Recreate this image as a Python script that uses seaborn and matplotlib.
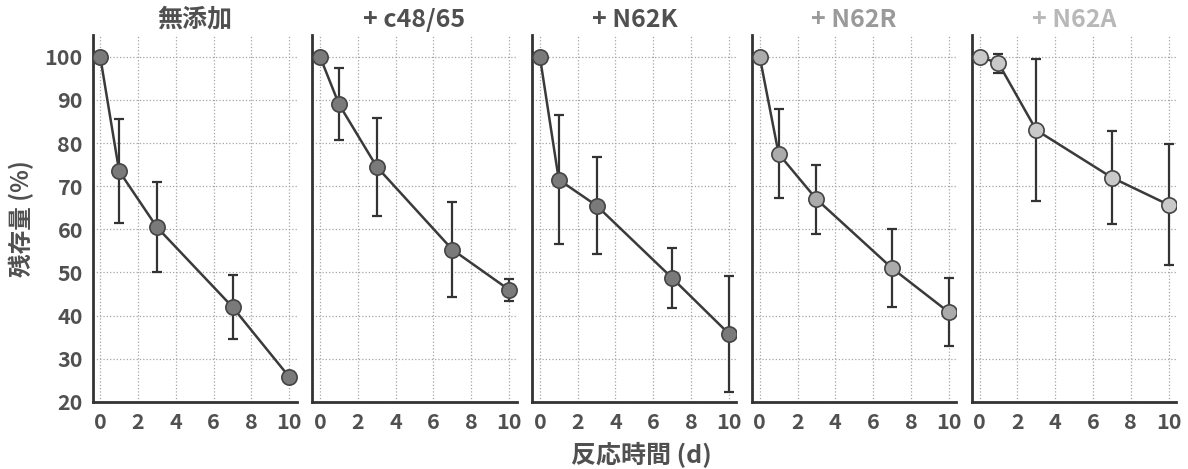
import numpy as np
import pandas as pd
import seaborn as sns
import matplotlib.pyplot as plt
from matplotlib.ticker import MultipleLocator

sns.set_style('white')
plt.rcParams['font.family'] = ['Noto Sans CJK JP', 'DejaVu Sans']

# datos
dias = [0, 1, 3, 7, 10]
titulos = ['無添加', '+ c48/65', '+ N62K', '+ N62R', '+ N62A']
valores = [
    [100, 73.5, 60.5, 42, 25.8],
    [100, 89, 74.5, 55.3, 46],
    [100, 71.5, 65.5, 48.7, 35.8],
    [100, 77.5, 67, 51, 40.8],
    [100, 98.5, 83, 72, 65.7],
]
errores = [
    [0, 12, 10.5, 7.5, 0.8],
    [0, 8.3, 11.4, 11, 2.5],
    [0, 15, 11.2, 7, 13.4],
    [0, 10.3, 8, 9, 7.9],
    [0, 2.2, 16.5, 10.7, 14],
]
color_marcador = ['#7a7a7a', '#7a7a7a', '#7a7a7a', '#ababab', '#c9c9c9']
color_titulo = ['#505050', '#505050', '#505050', '#9a9a9a', '#b8b8b8']

fig, axes = plt.subplots(1, 5, figsize=(11.88, 4.69), dpi=100, sharey=True)
plt.subplots_adjust(left=0.078, right=0.99, bottom=0.143, top=0.925, wspace=0.077)

for i, ax in enumerate(axes):
    df = pd.DataFrame({'dia': dias, 'valor': valores[i], 'err': errores[i]})
    ax.errorbar(df['dia'], df['valor'], yerr=df['err'], fmt='none',
                ecolor='#333333', elinewidth=1.6, capsize=3.5, capthick=1.6, zorder=2)
    sns.lineplot(data=df, x='dia', y='valor', ax=ax, color='#3a3a3a', linewidth=1.8,
                 marker='o', markersize=11, markerfacecolor=color_marcador[i],
                 markeredgecolor='#444444', markeredgewidth=1.2, zorder=3)

    ax.set_xlim(-0.4, 10.4)
    ax.set_ylim(20, 105)
    ax.xaxis.set_major_locator(MultipleLocator(2))
    ax.xaxis.set_minor_locator(MultipleLocator(1))
    ax.yaxis.set_major_locator(MultipleLocator(10))
    ax.yaxis.set_minor_locator(MultipleLocator(5))
    ax.set_yticks(np.arange(20, 101, 10))
    ax.tick_params(axis='both', which='major', direction='in', length=6, width=1.5,
                   color='#333333', labelsize=15.5, labelcolor='#505050', pad=7)
    ax.tick_params(axis='x', which='minor', direction='in', length=6, width=1.5, color='#333333')
    ax.tick_params(axis='y', which='minor', direction='in', length=3.5, width=1.2, color='#333333')
    for lab in ax.get_xticklabels() + ax.get_yticklabels():
        lab.set_fontweight('bold')

    ax.grid(True, which='major', linestyle=':', linewidth=0.9, color='#a5a5a5')
    ax.set_axisbelow(True)
    for lado in ['top', 'right']:
        ax.spines[lado].set_visible(False)
    for lado in ['left', 'bottom']:
        ax.spines[lado].set_linewidth(2)
        ax.spines[lado].set_color('#333333')

    ax.set_title(titulos[i], fontsize=18, fontweight='bold', color=color_titulo[i], pad=6)
    ax.set_xlabel('')
    ax.set_ylabel('')
    if i > 0:
        ax.tick_params(axis='y', labelleft=False)

axes[0].set_ylabel('残存量 (%)', fontsize=17, fontweight='bold', color='#505050', labelpad=8)
fig.text(0.54, 0.03, '反応時間 (d)', ha='center', va='center', fontsize=18,
         fontweight='bold', color='#505050')

plt.savefig('out.png', dpi=100)
